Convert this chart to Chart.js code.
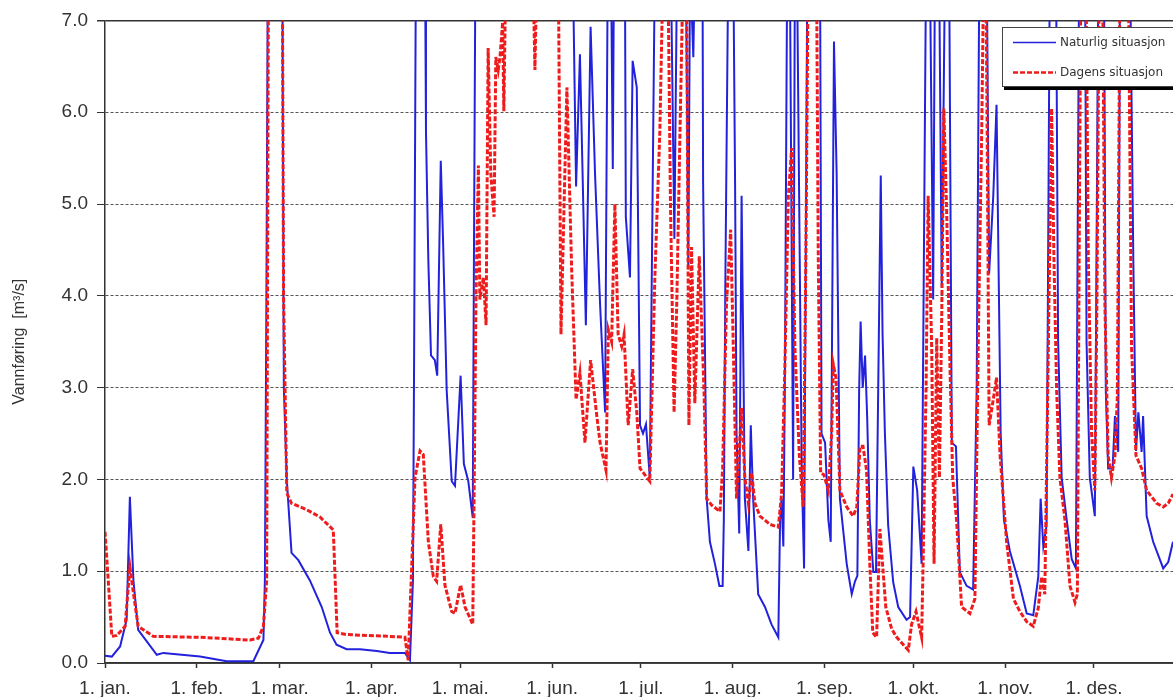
<!DOCTYPE html>
<html lang="no">
<head>
  <meta charset="UTF-8" />
  <title>Vannføring</title>
  <script src="https://cdn.jsdelivr.net/npm/chart.js"></script>
  <style>
    body {
      margin: 0;
      background: #fff;
    }
    canvas {
      display: block;
    }
  </style>
</head>
<body>
  <canvas id="graf" width="1173" height="697"></canvas>

  <script>
    // x-akse: dag i året, etiketter ved månedsstart
    const monthDays = [0, 31, 59, 90, 120, 151, 181, 212, 243, 273, 304, 334];
    const monthLabels = ["1. jan.", "1. feb.", "1. mar.", "1. apr.", "1. mai.", "1. jun.",
      "1. jul.", "1. aug.", "1. sep.", "1. okt.", "1. nov.", "1. des."];
    const yTicks = [0, 1, 2, 3, 4, 5, 6, 7];

    // Naturlig situasjon (verdier over 7 er kuttet av aksen)
    const naturligDays = [0, 2.3, 5.1, 7.3, 8.4, 9.6, 11.2, 17.5, 19.7, 32.1, 41.1, 50.1, 53.5, 54.0, 54.5, 55.0,
      59.9, 60.4, 61.4, 63.0, 65.3, 69.2, 73.2, 76.0, 78.2, 81.6, 86.1, 91.8, 96.2, 101.3, 103.0, 104.0,
      104.4, 105.0, 108.1, 108.4, 109.2, 110.1, 111.4, 112.2, 113.4, 114.2, 115.4, 117.1, 118.2, 120.1,
      121.2, 122.7, 124.2, 124.6, 125.1, 158.0, 159.1, 160.4, 161.3, 162.4, 164.0, 165.5, 167.2, 168.9,
      169.8, 170.9, 171.5, 171.9, 175.6, 175.9, 177.3, 178.2, 179.6, 180.7, 181.7, 182.7, 184.0, 185.7,
      191.1, 192.3, 193.2, 196.2, 197.0, 197.6, 198.7, 199.2, 201.8, 202.0, 203.2, 204.3, 206.0, 207.5,
      208.6, 209.0, 209.5, 210.5, 212.2, 212.8, 213.3, 214.2, 215.0, 216.1, 217.3, 218.1, 218.9, 220.6,
      222.9, 225.1, 227.4, 228.0, 228.5, 229.1, 229.6, 230.4, 231.3, 232.4, 233.0, 233.7, 235.3, 236.1,
      237.2, 241.5, 242.0, 243.2, 244.3, 245.1, 246.2, 247.1, 248.2, 250.5, 252.2, 253.3, 254.1, 254.7,
      255.2, 255.9, 256.7, 257.4, 258.3, 259.5, 260.4, 262.0, 262.6, 263.4, 264.5, 266.2, 267.9, 270.7,
      271.9, 273.0, 274.3, 275.8, 277.3, 278.6, 279.7, 280.3, 281.7, 282.6, 283.7, 285.1, 286.0, 287.4,
      288.7, 291.0, 293.2, 294.4, 295.3, 297.8, 298.6, 300.0, 301.1, 302.5, 303.6, 305.6, 309.0, 311.3,
      313.5, 315.2, 316.0, 316.9, 318.0, 319.1, 321.2, 321.9, 323.1, 324.8, 326.5, 327.9, 329.0, 331.0,
      331.5, 332.6, 334.3, 335.5, 337.4, 338.0, 338.8, 340.3, 341.1, 342.2, 342.8, 346.2, 347.3, 348.2,
      349.0, 350.1, 350.6, 351.8, 354.0, 357.4, 359.1, 360.7];
    const naturligValues = [0.08, 0.07, 0.18, 0.47, 1.81, 0.90, 0.36, 0.09, 0.11, 0.07, 0.02, 0.02, 0.25, 0.90, 3.90, 7.6,
      7.6, 3.00, 1.99, 1.20, 1.12, 0.90, 0.61, 0.33, 0.20, 0.15, 0.15, 0.13, 0.11, 0.11, 0.03, 0.90,
      3.35, 7.6, 7.6, 5.80, 4.39, 3.35, 3.30, 3.13, 5.47, 4.57, 2.97, 1.98, 1.93, 3.13,
      2.17, 1.98, 1.58, 4.39, 7.6, 7.6, 5.19, 6.63, 5.33, 3.68, 6.93, 5.33, 3.91, 2.73,
      7.6, 7.6, 5.38, 7.6, 7.6, 4.86, 4.20, 6.56, 6.27, 2.59, 2.50, 2.60, 2.02, 7.6,
      7.6, 4.62, 7.6, 7.6, 4.29, 7.6, 6.60, 7.6, 7.6, 5.23, 1.79, 1.32, 1.08, 0.84,
      0.84, 1.56, 4.10, 7.6, 7.6, 5.23, 2.50, 1.41, 5.09, 1.79, 1.22, 2.59, 1.79, 0.75,
      0.61, 0.42, 0.28, 1.56, 1.79, 1.27, 2.97, 7.6, 7.6, 2.00, 7.6, 7.6, 2.12, 1.03,
      7.6, 7.6, 2.50, 2.40, 1.56, 1.32, 6.77, 5.33, 1.79, 1.08, 0.75, 0.89, 0.95, 2.97,
      3.72, 3.00, 3.35, 2.69, 1.56, 0.99, 0.99, 5.31, 3.60, 2.50, 1.50, 0.88, 0.61, 0.47,
      0.50, 2.14, 1.88, 1.08, 7.6, 7.6, 3.96, 7.6, 7.6, 4.10, 7.6, 7.6, 2.40, 2.36,
      0.99, 0.84, 0.80, 3.00, 7.6, 7.6, 4.24, 5.09, 6.08, 2.50, 1.56, 1.22, 0.84, 0.54,
      0.52, 0.94, 1.79, 1.27, 1.50, 7.6, 7.6, 3.50, 2.02, 1.56, 1.13, 1.03, 7.6, 7.6,
      3.50, 2.02, 1.60, 7.6, 7.6, 2.97, 2.12, 2.12, 2.69, 2.30, 7.6, 7.6, 4.39, 2.31,
      2.73, 2.30, 2.69, 1.60, 1.32, 1.03, 1.10, 1.32];

    // Dagens situasjon
    const dagensDays = [0, 1.1, 2.3, 4.0, 6.8, 8.4, 9.6, 11.2, 16.3, 32.1, 49.0, 51.8, 53.5, 54.6, 55.2, 59.9,
      60.3, 61.4, 63.0, 68.1, 72.6, 77.1, 78.4, 81.6, 88.4, 96.2, 101.3, 102.4, 104.7, 106.4, 107.5, 109.2,
      110.9, 112.0, 113.4, 114.8, 117.1, 118.2, 120.1, 121.6, 124.2, 124.6, 125.3, 126.1, 126.6, 127.8,
      128.7, 129.4, 130.3, 131.4, 132.0, 132.8, 133.4, 134.3, 134.7, 135.4, 144.5, 145.2, 145.9, 153.1,
      154.0, 156.0, 157.6, 159.1, 160.4, 162.1, 164.0, 166.1, 167.2, 169.2, 170.0, 171.1, 172.2, 173.3,
      174.5, 175.3, 176.7, 178.2, 179.6, 180.7, 184.0, 185.7, 187.4, 188.5, 190.1, 191.0, 192.2, 193.1,
      194.2, 195.3, 196.4, 197.2, 198.1, 199.2, 200.7, 202.3, 203.2, 204.9, 207.7, 208.6, 209.9, 211.3,
      212.2, 213.3, 215.0, 216.1, 217.3, 218.4, 219.5, 221.2, 224.6, 227.4, 228.5, 229.6, 230.8, 231.9,
      233.0, 234.5, 235.8, 236.7, 237.5, 240.3, 240.9, 241.7, 242.8, 244.3, 245.4, 246.0, 246.9, 248.2,
      250.5, 252.7, 253.9, 255.0, 256.0, 257.2, 258.3, 259.3, 260.6, 261.7, 262.6, 263.7, 265.7, 267.4,
      271.3, 272.4, 273.9, 275.8, 276.3, 277.3, 278.0, 279.2, 280.0, 280.9, 281.8, 282.6, 283.3, 284.3,
      285.4, 286.3, 287.6, 289.3, 292.1, 293.8, 294.9, 296.1, 296.8, 297.5, 298.0, 298.6, 300.0, 301.1,
      302.3, 304.5, 306.8, 309.0, 311.3, 313.5, 315.2, 316.3, 317.4, 318.6, 319.7, 320.5, 321.4, 322.5,
      324.2, 325.9, 327.6, 328.4, 329.0, 329.6, 331.3, 332.1, 333.2, 334.3, 335.0, 335.8, 336.9, 337.7,
      338.8, 339.9, 341.1, 341.9, 342.8, 345.6, 346.7, 348.2, 350.1, 351.8, 355.2, 357.4, 359.1, 360.7];
    const dagensValues = [1.43, 0.90, 0.29, 0.30, 0.40, 1.05, 0.76, 0.40, 0.29, 0.28, 0.25, 0.27, 0.40, 0.90, 7.6, 7.6,
      4.00, 1.85, 1.74, 1.67, 1.59, 1.45, 0.33, 0.31, 0.30, 0.29, 0.28, 0.03, 2.02, 2.31, 2.27, 1.32,
      0.94, 0.89, 1.51, 0.85, 0.56, 0.54, 0.85, 0.61, 0.42, 1.65, 4.00, 5.42, 3.96, 4.20,
      3.68, 6.70, 5.33, 4.86, 6.60, 6.46, 6.60, 6.98, 6.01, 7.6, 7.6, 6.46, 7.6, 7.6,
      3.58, 6.27, 4.29, 2.87, 3.16, 2.40, 3.30, 2.69, 2.40, 2.10, 3.63, 3.50, 5.00, 3.58,
      3.45, 3.58, 2.59, 3.20, 2.73, 2.12, 1.98, 4.20, 5.80, 7.6, 7.6, 4.95, 2.73, 3.91,
      5.80, 7.6, 7.6, 2.59, 4.53, 2.83, 4.43, 2.97, 1.79, 1.72, 1.65, 2.12, 3.91, 4.72,
      3.44, 1.79, 2.78, 2.02, 1.74, 2.07, 1.74, 1.60, 1.51, 1.48, 1.84, 3.20, 5.09, 5.61,
      3.44, 2.26, 1.70, 4.39, 7.6, 7.6, 4.40, 2.07, 2.05, 1.88, 2.50, 3.25, 3.10, 1.88,
      1.70, 1.60, 1.70, 2.36, 2.36, 2.10, 1.08, 0.33, 0.28, 1.46, 1.08, 0.61, 0.37, 0.28,
      0.14, 0.42, 0.56, 0.28, 1.08, 3.00, 5.09, 3.44, 1.08, 3.54, 2.02, 3.80, 6.04, 4.86,
      3.20, 2.02, 1.56, 0.61, 0.54, 0.70, 3.44, 5.80, 7.6, 7.6, 5.50, 2.59, 2.87, 3.11,
      2.26, 1.32, 0.70, 0.56, 0.45, 0.40, 0.60, 0.94, 0.75, 3.44, 6.04, 4.39, 2.97, 2.02,
      1.56, 0.84, 0.66, 0.75, 4.39, 7.6, 7.6, 4.39, 2.50, 1.88, 3.90, 7.6, 7.6, 3.90,
      2.26, 2.02, 2.26, 2.90, 7.6, 7.6, 3.44, 2.26, 2.12, 1.88, 1.74, 1.70, 1.74, 1.84];

    const tilPunkter = (dager, verdier) => dager.map((d, i) => ({ x: d, y: verdier[i] }));

    // Forklaring i boks med skygge oppe til høyre
    const forklaring = {
      id: "forklaring",
      afterDraw(chart) {
        const c = chart.ctx;
        c.save();
        c.fillStyle = "#000";
        c.fillRect(1004, 31, 200, 59);
        c.fillStyle = "#fff";
        c.fillRect(1002, 27, 200, 59);
        c.strokeStyle = "#444";
        c.lineWidth = 1;
        c.strokeRect(1002.5, 27.5, 200, 59);

        chart.data.datasets.forEach((ds, i) => {
          const y = 42.5 + i * 30;
          c.strokeStyle = ds.borderColor;
          c.lineWidth = ds.borderWidth - 0.5;
          c.setLineDash(ds.borderDash || []);
          c.beginPath();
          c.moveTo(1013, y);
          c.lineTo(1056, y);
          c.stroke();
          c.setLineDash([]);
          c.fillStyle = "#333";
          c.font = "12px 'DejaVu Sans'";
          c.textBaseline = "middle";
          c.fillText(ds.label, 1060, y);
        });
        c.restore();
      }
    };

    new Chart(document.getElementById("graf"), {
      type: "line",
      data: {
        datasets: [
          {
            label: "Naturlig situasjon",
            data: tilPunkter(naturligDays, naturligValues),
            borderColor: "#2222dc",
            borderWidth: 2,
            pointRadius: 0,
            tension: 0,
            order: 1
          },
          {
            label: "Dagens situasjon",
            data: tilPunkter(dagensDays, dagensValues),
            borderColor: "#ee1c1c",
            borderWidth: 3,
            borderDash: [5, 2],
            pointRadius: 0,
            tension: 0,
            order: 0
          }
        ]
      },
      options: {
        responsive: false,
        animation: false,
        layout: { padding: { top: 20, right: 0, bottom: 0, left: 0 } },
        plugins: {
          legend: { display: false },
          tooltip: { enabled: false }
        },
        scales: {
          x: {
            type: "linear",
            min: 0,
            max: 360.7,
            afterBuildTicks: s => { s.ticks = monthDays.map(v => ({ value: v })); },
            afterFit: s => { s.height = 34; },
            ticks: {
              callback: (v, i) => monthLabels[i],
              autoSkip: false,
              maxRotation: 0,
              padding: 9,
              color: "#333",
              font: { family: "'Liberation Sans', Arial, sans-serif", size: 19 }
            },
            grid: { drawOnChartArea: false, drawTicks: true, tickLength: 5, tickColor: "#333", tickWidth: 1.5 },
            border: { color: "#333", width: 1.5 }
          },
          y: {
            min: 0,
            max: 7,
            afterBuildTicks: s => { s.ticks = yTicks.map(v => ({ value: v })); },
            afterFit: s => { s.width = 105; },
            ticks: {
              callback: v => v.toFixed(1),
              padding: 9,
              color: "#333",
              font: { family: "'Liberation Sans', Arial, sans-serif", size: 19 }
            },
            grid: {
              color: c => (c.tick && c.tick.value === 7 ? "#333" : "#555"),
              lineWidth: c => (c.tick && c.tick.value === 7 ? 1.5 : 1),
              tickLength: 8,
              tickColor: "#333"
            },
            border: {
              color: "#333",
              width: 1.5,
              dash: c => (c.tick && c.tick.value !== 7 && c.tick.value !== 0 ? [3, 2] : [])
            },
            title: {
              display: true,
              text: "Vannføring  [m³/s]",
              color: "#333",
              padding: { top: 10, bottom: 0 },
              font: { family: "'Liberation Sans', Arial, sans-serif", size: 16 }
            }
          }
        }
      },
      plugins: [forklaring]
    });
  </script>
</body>
</html>
